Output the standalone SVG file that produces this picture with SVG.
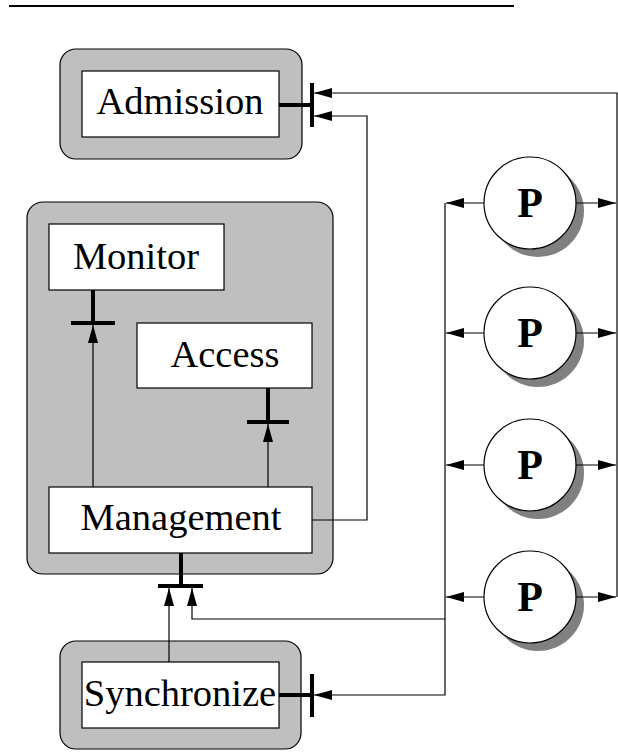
<svg xmlns="http://www.w3.org/2000/svg" width="618" height="755" viewBox="0 0 618 755">
  <defs>
    <style>
      .frame { fill: #bfbfbf; stroke: #000; stroke-width: 1.2; }
      .box { fill: #fff; stroke: #000; stroke-width: 1.2; }
      .label { font-family: "Liberation Serif", "Times New Roman", serif; font-size: 38.5px; fill: #000; text-anchor: middle; }
      .plabel { font-family: "Liberation Serif", "Times New Roman", serif; font-size: 42px; font-weight: bold; fill: #000; text-anchor: middle; }
      .wire { fill: none; stroke: #000; stroke-width: 1.2; }
      .port { fill: none; stroke: #000; stroke-width: 4; }
      .shadow { fill: #808080; }
      .proc { fill: #fff; stroke: #000; stroke-width: 1.2; }
    </style>
    <marker id="arrow" viewBox="0 0 18 10" refX="18" refY="5" markerWidth="18" markerHeight="10" markerUnits="userSpaceOnUse" orient="auto">
      <path d="M0,0 L18,5 L0,10 Z" fill="#000"/>
    </marker>
  </defs>

  <!-- rule across the top -->
  <line x1="9" y1="6" x2="514" y2="6" stroke="#000" stroke-width="2.2"/>

  <g id="admission">
    <rect class="frame" x="60" y="49" width="242" height="110" rx="16"/>
    <rect class="box" x="82" y="71" width="197" height="66"/>
    <text class="label" x="180" y="114">Admission</text>
  </g>

  <g id="core">
    <rect class="frame" x="27" y="202" width="306" height="372" rx="16"/>
  </g>

  <g id="monitor">
    <rect class="box" x="49" y="224" width="175" height="66"/>
    <text class="label" x="136" y="269">Monitor</text>
  </g>

  <g id="access">
    <rect class="box" x="137" y="323" width="175" height="65"/>
    <text class="label" x="225" y="367">Access</text>
  </g>

  <g id="management">
    <rect class="box" x="49" y="487" width="263" height="66"/>
    <text class="label" x="181" y="530">Management</text>
  </g>

  <g id="synchronize">
    <rect class="frame" x="60" y="641" width="241" height="108" rx="16"/>
    <rect class="box" x="82" y="662" width="197" height="66"/>
    <text class="label" x="180" y="706">Synchronize</text>
  </g>

  <g id="p1">
    <circle class="shadow" cx="538" cy="211" r="46"/>
    <circle class="proc" cx="530" cy="203" r="46"/>
    <text class="plabel" x="530" y="217">P</text>
  </g>
  <g id="p2">
    <circle class="shadow" cx="538" cy="341" r="46"/>
    <circle class="proc" cx="530" cy="333" r="46"/>
    <text class="plabel" x="530" y="347">P</text>
  </g>
  <g id="p3">
    <circle class="shadow" cx="538" cy="473" r="46"/>
    <circle class="proc" cx="530" cy="465" r="46"/>
    <text class="plabel" x="530" y="479">P</text>
  </g>
  <g id="p4">
    <circle class="shadow" cx="538" cy="605" r="46"/>
    <circle class="proc" cx="530" cy="597" r="46"/>
    <text class="plabel" x="530" y="611">P</text>
  </g>

  <g id="connectors">
    <!-- ports: stub plus bar -->
    <path class="port" d="M279,105 H312 M312,83 V127"/>
    <path class="port" d="M93,290 V323 M71,323 H115"/>
    <path class="port" d="M268,388 V422 M247,422 H289"/>
    <path class="port" d="M181,553 V586 M158,586 H203"/>
    <path class="port" d="M279,695 H312 M312,674 V717"/>

    <!-- inside the core -->
    <path class="wire" d="M93,487 V325" marker-end="url(#arrow)"/>
    <path class="wire" d="M268,487 V424" marker-end="url(#arrow)"/>

    <!-- management to admission -->
    <path class="wire" d="M312,520 H367 V116 H314" marker-end="url(#arrow)"/>

    <!-- right bus to admission -->
    <path class="wire" d="M617,597 V93 H314" marker-end="url(#arrow)"/>

    <!-- left bus to synchronize and core -->
    <path class="wire" d="M445,203 V695 H314" marker-end="url(#arrow)"/>
    <path class="wire" d="M445,619 H192 V588" marker-end="url(#arrow)"/>

    <!-- synchronize to core -->
    <path class="wire" d="M169,662 V588" marker-end="url(#arrow)"/>

    <!-- process links -->
    <path class="wire" d="M484,203 H446" marker-end="url(#arrow)"/>
    <path class="wire" d="M576,203 H616" marker-end="url(#arrow)"/>
    <path class="wire" d="M484,333 H446" marker-end="url(#arrow)"/>
    <path class="wire" d="M576,333 H616" marker-end="url(#arrow)"/>
    <path class="wire" d="M484,465 H446" marker-end="url(#arrow)"/>
    <path class="wire" d="M576,465 H616" marker-end="url(#arrow)"/>
    <path class="wire" d="M484,597 H446" marker-end="url(#arrow)"/>
    <path class="wire" d="M576,597 H616" marker-end="url(#arrow)"/>
  </g>
</svg>
